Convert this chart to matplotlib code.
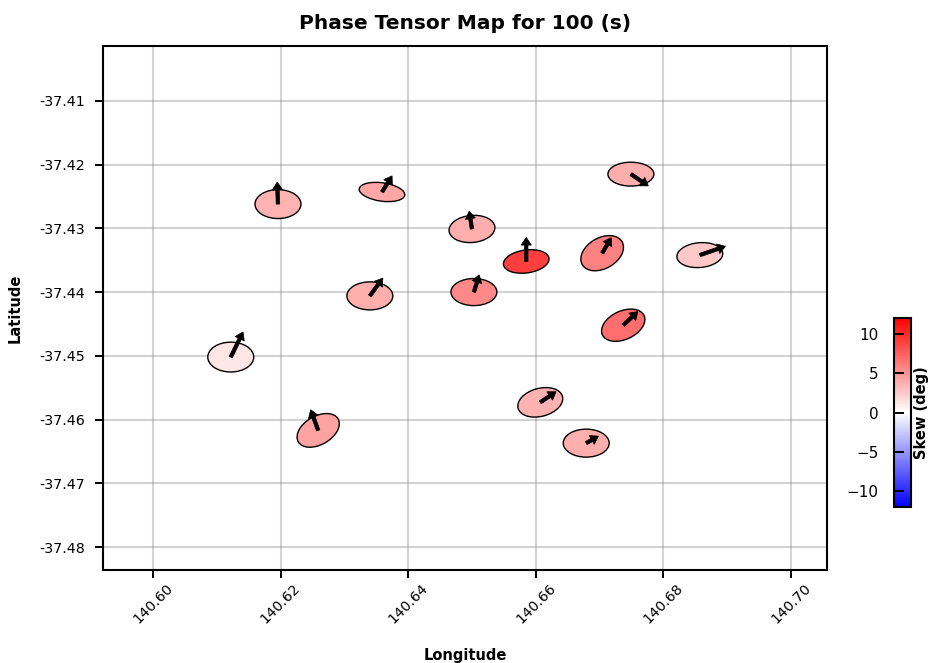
import numpy as np
import matplotlib
matplotlib.use("Agg")
import matplotlib.pyplot as plt
from matplotlib.patches import Ellipse
from matplotlib.colors import LinearSegmentedColormap, Normalize
from matplotlib.ticker import FormatStrFormatter
import matplotlib.cm as cm

# ---- data ----
lon = [140.6196, 140.6359, 140.6500, 140.6585, 140.6749, 140.6704, 140.6857,
       140.6340, 140.6503, 140.6737, 140.6122, 140.6259, 140.6607, 140.6679]
lat = [-37.4262, -37.4243, -37.4301, -37.4352, -37.4215, -37.4339, -37.4342,
       -37.4406, -37.4400, -37.4452, -37.4502, -37.4617, -37.4573, -37.4637]
# phase tensor ellipse: minor/major ratio and azimuth (deg, ccw from east)
pt_ratio = [0.63, 0.40, 0.59, 0.50, 0.52, 0.67, 0.54,
            0.61, 0.59, 0.62, 0.65, 0.62, 0.61, 0.61]
pt_angle = [0, -8, 5, 8, 0, 30, 5, 0, 0, 25, 0, 30, 15, 0]
skew = [3.6, 4.2, 3.8, 9.0, 3.8, 5.9, 2.6, 3.8, 5.6, 6.8, 1.2, 4.4, 3.6, 3.8]
# induction arrows: magnitude and direction (deg, ccw from east)
arrow_mag = [0.22, 0.19, 0.18, 0.24, 0.21, 0.18, 0.27,
             0.22, 0.18, 0.20, 0.28, 0.22, 0.19, 0.14]
arrow_dir = [92, 58, 99, 90, -34, 60, 19, 54, 73, 43, 64, 110, 34, 30]

xticks = [140.60, 140.62, 140.64, 140.66, 140.68, 140.70]
yticks = [-37.41, -37.42, -37.43, -37.44, -37.45, -37.46, -37.47, -37.48]
skew_ticks = [-10, -5, 0, 5, 10]

# ---- styling ----
ellipse_size = 0.0072
arrow_scale = 0.0157

fig = plt.figure(figsize=(9.29, 6.63), dpi=100)
ax = fig.add_axes([0.111, 0.1403, 0.779, 0.7903])

cmap = LinearSegmentedColormap.from_list("bl2wh2rd", [(0, 0, 1), (1, 1, 1), (1, 0, 0)])
norm = Normalize(vmin=-12, vmax=12)

for x, y, r, a, s in zip(lon, lat, pt_ratio, pt_angle, skew):
    e = Ellipse((x, y), width=ellipse_size, height=ellipse_size * r, angle=a,
                facecolor=cmap(norm(s)), edgecolor="black", linewidth=1.0, zorder=3)
    ax.add_patch(e)

for x, y, m, d in zip(lon, lat, arrow_mag, arrow_dir):
    L = m * arrow_scale
    dx = L * np.cos(np.radians(d))
    dy = L * np.sin(np.radians(d))
    ax.arrow(x, y, dx, dy, width=0.00055, head_width=0.0016, head_length=0.0012,
             length_includes_head=True, facecolor="black", edgecolor="black",
             linewidth=0.5, zorder=4)

ax.set_xlim(140.5922, 140.7056)
ax.set_ylim(-37.4836, -37.4014)
ax.set_xticks(xticks)
ax.set_yticks(yticks)
ax.xaxis.set_major_formatter(FormatStrFormatter("%.2f"))
ax.yaxis.set_major_formatter(FormatStrFormatter("%.2f"))
ax.tick_params(axis="both", labelsize=10.3, width=1.4, length=6)
ax.tick_params(axis="y", pad=7)
ax.tick_params(axis="x", pad=18)
for lbl in ax.get_xticklabels():
    lbl.set_rotation(45)
    lbl.set_ha("center")
    lbl.set_va("center")
ax.grid(True, color="gray", alpha=0.35, linewidth=1.5, zorder=0)
ax.set_axisbelow(True)
for sp in ax.spines.values():
    sp.set_linewidth(1.5)

ax.set_xlabel("Longitude", fontsize=10.5, fontweight="bold", labelpad=16)
ax.set_ylabel("Latitude", fontsize=10.5, fontweight="bold", labelpad=12)
ax.set_title("Phase Tensor Map for 100 (s)", fontsize=14.5, fontweight="bold", pad=12)

cax = fig.add_axes([0.9623, 0.2353, 0.0183, 0.285])
sm = cm.ScalarMappable(norm=norm, cmap=cmap)
cb = fig.colorbar(sm, cax=cax, ticks=skew_ticks)
cax.yaxis.set_ticks_position("left")
cax.tick_params(direction="in", length=7, width=1.4, labelsize=11, pad=11)
cb.outline.set_linewidth(1.5)
cb.set_label("Skew (deg)", fontsize=10.5, fontweight="bold", labelpad=2)
cax.yaxis.set_label_position("right")

fig.savefig("out.png", dpi=100)
